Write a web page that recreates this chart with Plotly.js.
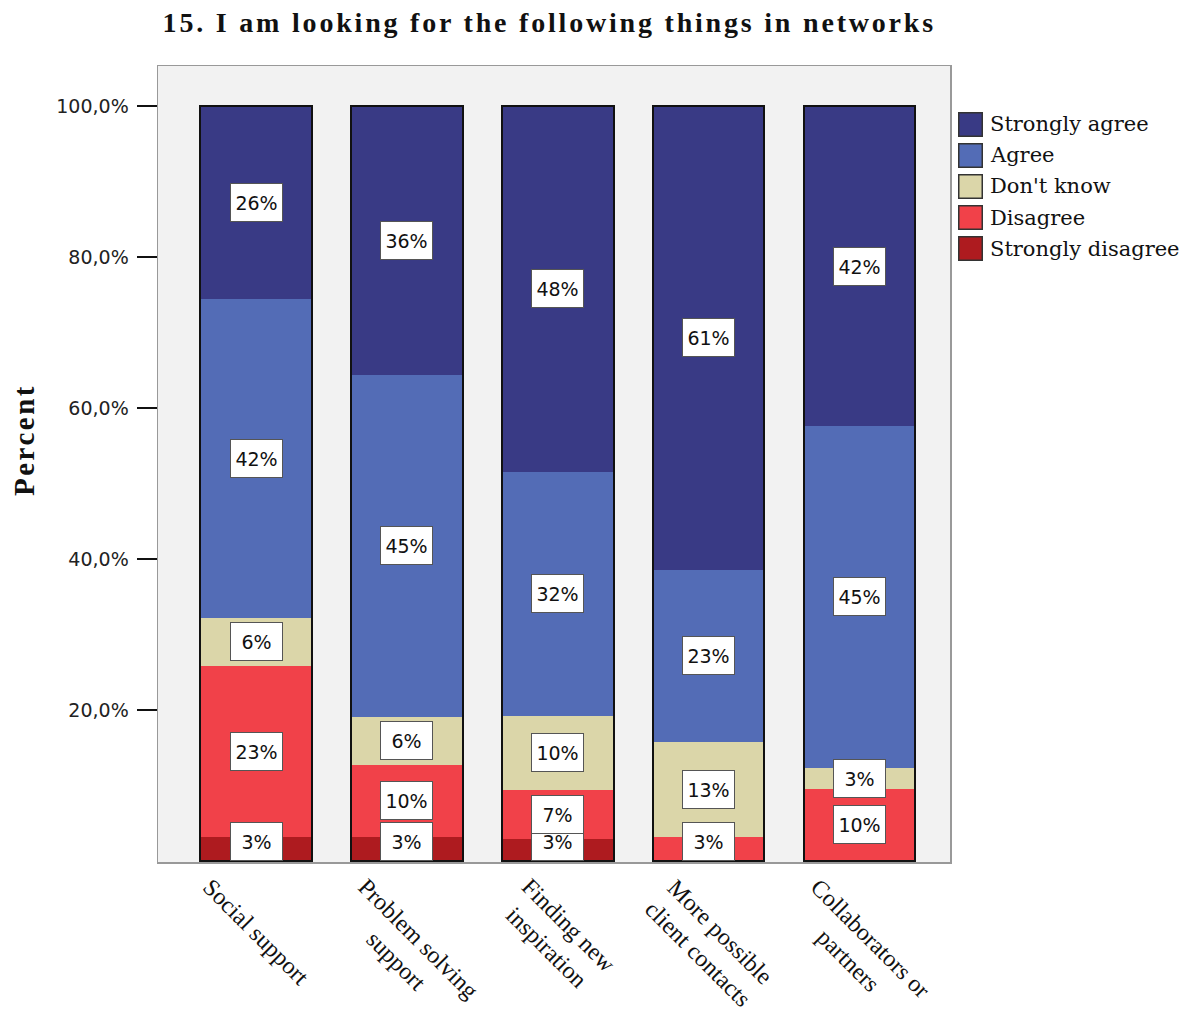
<!DOCTYPE html>
<html>
<head>
<meta charset="utf-8">
<script src="https://cdn.plot.ly/plotly-3.0.1.min.js"></script>
<style>html,body{margin:0;padding:0;background:#fff;}#chart{width:1196px;height:1019px;}</style>
</head>
<body>
<div id="chart"></div>
<script>
// ---- data ----
const categories = ['Social support', 'Problem solving<br>support', 'Finding new<br>inspiration', 'More possible<br>client contacts', 'Collaborators or<br>partners'];
const seriesNames = ['Strongly disagree', 'Disagree', "Don't know", 'Agree', 'Strongly agree'];
const stronglyDisagree = [3.2, 3.2, 2.9, 0, 0];
const disagree = [22.7, 9.6, 6.6, 3.2, 9.6];
const dontKnow = [6.3, 6.3, 9.7, 12.6, 2.8];
const agree = [42.2, 45.3, 32.4, 22.8, 45.2];
const stronglyAgree = [25.6, 35.6, 48.4, 61.4, 42.4];
const yTickVals = [20, 40, 60, 80, 100];
const yTickText = ['20,0%', '40,0%', '60,0%', '80,0%', '100,0%'];
const chartTitle = '15. I am looking for the following things in networks';
const yTitle = 'Percent';

// ---- styles ----
const colors = ['#ae1b1f', '#f14149', '#dbd6a9', '#536cb6', '#393a85'];
const series = [stronglyDisagree, disagree, dontKnow, agree, stronglyAgree];
const catIdx = categories.map((c, i) => i);

const traces = series.map((vals, k) => ({
  type: 'bar', name: seriesNames[k], x: catIdx, y: vals,
  marker: {color: colors[k], line: {width: 0}},
  hoverinfo: 'skip', showlegend: false
}));
// outline of whole stacked bar
const totals = catIdx.map(i => series.reduce((s, arr) => s + arr[i], 0));
traces.push({
  type: 'bar', x: catIdx, y: totals, xaxis: 'x2',
  marker: {color: 'rgba(0,0,0,0)', line: {width: 2, color: '#111'}},
  hoverinfo: 'skip', showlegend: false
});

const pxPerUnit = 796 / 105.4;
const halfBox = 19 / pxPerUnit;
const annotations = [];
// value labels
catIdx.forEach(i => {
  let base = 0;
  series.forEach((vals, k) => {
    const v = vals[i];
    if (v > 0) {
      const c = base + v / 2;
      const clamp = c < halfBox;
      annotations.push({
        x: i, y: clamp ? 0 : c, xref: 'x', yref: 'y',
        yanchor: clamp ? 'bottom' : 'middle', xanchor: 'center',
        text: Math.round(v) + '%', showarrow: false,
        font: {family: 'DejaVu Sans', size: 19, color: '#111'},
        bgcolor: '#ffffff', bordercolor: '#555', borderwidth: 1,
        width: 47, height: 33, borderpad: 2
      });
    }
    base += v;
  });
});
// category labels
catIdx.forEach(i => {
  annotations.push({
    x: i, y: 0, xref: 'x', yref: 'paper', yanchor: 'top', xanchor: 'center',
    yshift: -9, text: categories[i], textangle: 45, align: 'center', showarrow: false,
    font: {family: 'Liberation Serif', size: 24, color: '#111'}
  });
});
// y title
annotations.push({
  x: (24 - 158) / 792, y: (862 - 440) / 796, xref: 'paper', yref: 'paper', xanchor: 'center', yanchor: 'middle',
  text: '<span style="letter-spacing:2.5px">' + yTitle + '</span>', textangle: -90,
  showarrow: false, font: {family: 'Liberation Serif', size: 29, weight: 'bold', color: '#111'}
});
// custom legend (top to bottom: Strongly agree ... Strongly disagree)
for (let r = 0; r < 5; r++) {
  const k = 4 - r;
  const yy = (862 - (124 + r * 31.2)) / 796;
  annotations.push({
    x: (970.5 - 158) / 792, y: yy, xref: 'paper', yref: 'paper', xanchor: 'center', yanchor: 'middle',
    text: ' ', showarrow: false, bgcolor: colors[k], bordercolor: '#333', borderwidth: 1.5,
    width: 22, height: 22, borderpad: 0, font: {size: 10}
  });
  annotations.push({
    x: (988 - 158) / 792, y: yy, xref: 'paper', yref: 'paper', xanchor: 'left', yanchor: 'middle',
    text: seriesNames[k], showarrow: false,
    font: {family: 'DejaVu Serif', size: 21, color: '#111'}
  });
}

const layout = {
  width: 1196, height: 1019,
  margin: {l: 158, r: 246, t: 66, b: 157},
  paper_bgcolor: '#ffffff', plot_bgcolor: '#f2f2f2',
  barmode: 'stack', bargap: 0.26,
  showlegend: false,
  title: {text: '<span style="letter-spacing:2.8px">' + chartTitle + '</span>', x: 0.494, xref: 'paper', xanchor: 'center', y: 1 - 22 / 1019, yanchor: 'middle',
    font: {family: 'Liberation Serif', size: 28, weight: 'bold', color: '#111'}},
  xaxis: {range: [-0.65, 4.6], showticklabels: false, ticks: '', showgrid: false, zeroline: false,
    showline: true, mirror: true, linecolor: '#999', linewidth: 1.5, fixedrange: true},
  xaxis2: {range: [-0.65, 4.6], overlaying: 'x', visible: false, fixedrange: true},
  yaxis: {range: [-0.1, 105.3], tickvals: yTickVals, ticktext: yTickText, ticks: 'outside', ticklen: 20,
    tickwidth: 2, tickcolor: '#111', showgrid: false, zeroline: false, showline: true, mirror: true,
    linecolor: '#999', linewidth: 1.5, ticklabelstandoff: 4,
    tickfont: {family: 'DejaVu Sans', size: 19, color: '#222'}, fixedrange: true},
  annotations: annotations
};

Plotly.newPlot('chart', traces, layout, {displayModeBar: false, staticPlot: true});
</script>
</body>
</html>
